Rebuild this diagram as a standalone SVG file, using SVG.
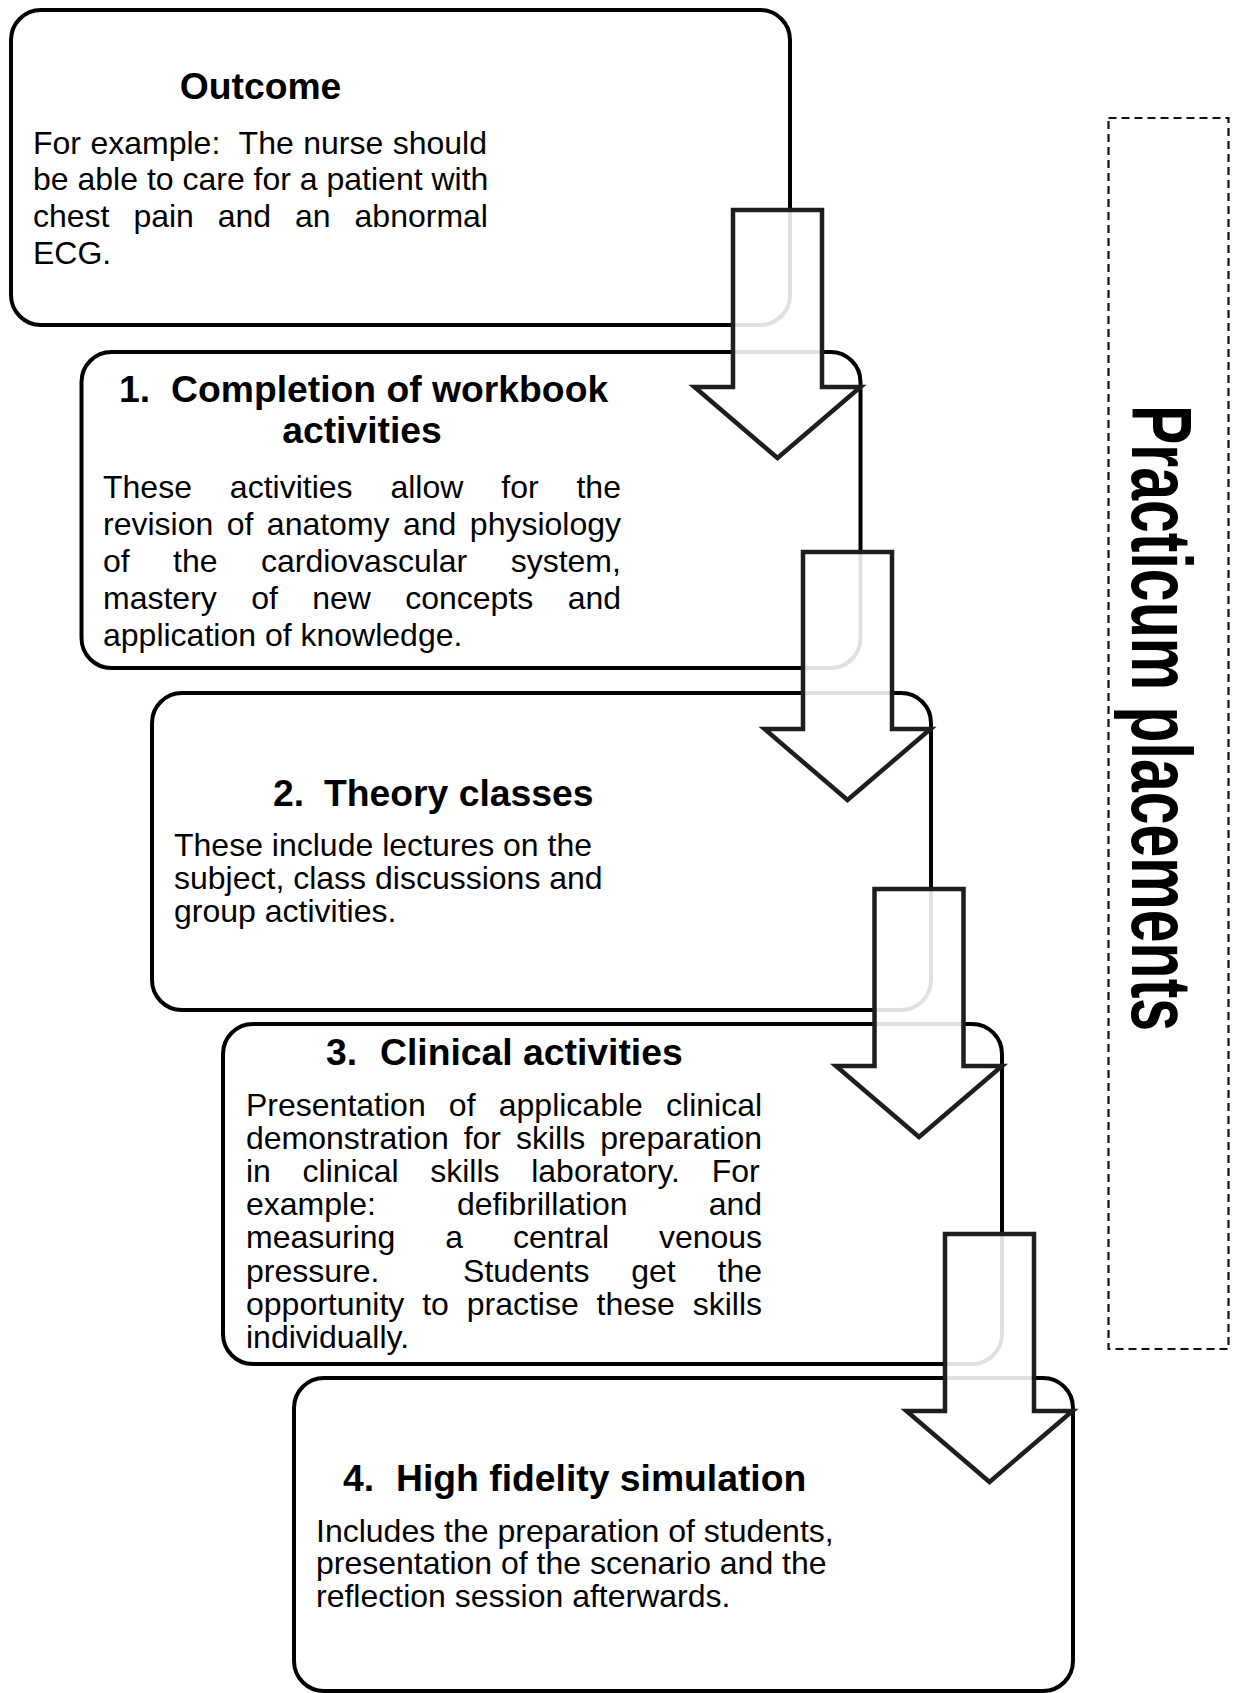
<svg xmlns="http://www.w3.org/2000/svg" width="1238" height="1693" viewBox="0 0 1238 1693">
  <style>
    .box { fill: #ffffff; stroke: #000000; stroke-width: 4; }
    .arrow { fill: #ffffff; fill-opacity: 0.88; stroke: #1e1e1e; stroke-width: 4.5; stroke-linejoin: miter; stroke-miterlimit: 10; }
    .head { font-family: "Liberation Sans", Arial, sans-serif; font-weight: bold; font-size: 37.3px; fill: #000; }
    .body { font-family: "Liberation Sans", Arial, sans-serif; font-size: 32px; fill: #000; }
    .side { font-family: "Liberation Sans", Arial, sans-serif; font-weight: bold; font-size: 59px; fill: #000; }
    .dash { fill: none; stroke: #111; stroke-width: 2.2; stroke-dasharray: 8 5; }
  </style>
  <defs>
    <!-- block arrow, local origin at the top-centre of the shaft -->
    <path id="downArrow" class="arrow" d="M-44.5,0 H44.5 V177 H83 L0,248 L-83,177 H-44.5 Z"/>
  </defs>

  <rect width="1238" height="1693" fill="#ffffff"/>

  <g id="outcome">
    <rect class="box" x="11" y="10" width="779" height="315" rx="30"/>
    <text class="head" x="260.5" y="99" text-anchor="middle">Outcome</text>
    <text class="body" x="33" y="153.5" xml:space="preserve" style="word-spacing:0.55px">For example:  The nurse should</text>
    <text class="body" x="33" y="190.3">be able to care for a patient with</text>
    <text class="body" x="33" y="227.1" style="word-spacing:15px">chest pain and an abnormal</text>
    <text class="body" x="33" y="263.9">ECG.</text>
  </g>

  <g id="workbook">
    <rect class="box" x="81.5" y="352" width="779" height="316" rx="30"/>
    <text class="head" x="119" y="402">1.</text>
    <text class="head" x="171" y="402">Completion of workbook</text>
    <text class="head" x="362" y="443" text-anchor="middle">activities</text>
    <text class="body" x="103" y="498" style="word-spacing:29px">These activities allow for the</text>
    <text class="body" x="103" y="535" style="word-spacing:4.55px">revision of anatomy and physiology</text>
    <text class="body" x="103" y="572" style="word-spacing:34.5px">of the cardiovascular system,</text>
    <text class="body" x="103" y="609" style="word-spacing:25.45px">mastery of new concepts and</text>
    <text class="body" x="103" y="646">application of knowledge.</text>
  </g>

  <g id="theory">
    <rect class="box" x="152" y="693" width="779" height="317" rx="30"/>
    <text class="head" x="273" y="806">2.</text>
    <text class="head" x="324" y="806">Theory classes</text>
    <text class="body" x="174" y="856">These include lectures on the</text>
    <text class="body" x="174" y="889">subject, class discussions and</text>
    <text class="body" x="174" y="922">group activities.</text>
  </g>

  <g id="clinical">
    <rect class="box" x="223" y="1024" width="779" height="340" rx="30"/>
    <text class="head" x="326" y="1065">3.</text>
    <text class="head" x="380" y="1065">Clinical activities</text>
    <text class="body" x="246" y="1115.5" style="word-spacing:14.3px">Presentation of applicable clinical</text>
    <text class="body" x="246" y="1148.7" style="word-spacing:6px">demonstration for skills preparation</text>
    <text class="body" x="246" y="1181.9" style="word-spacing:22.75px">in clinical skills laboratory. For</text>
    <text class="body" x="246" y="1215.1" style="word-spacing:72.15px">example: defibrillation and</text>
    <text class="body" x="246" y="1248.3" style="word-spacing:41px">measuring a central venous</text>
    <text class="body" x="246" y="1281.5" xml:space="preserve" style="word-spacing:32.95px">pressure.  Students get the</text>
    <text class="body" x="246" y="1314.7" style="word-spacing:8.95px">opportunity to practise these skills</text>
    <text class="body" x="246" y="1347.9">individually.</text>
  </g>

  <g id="simulation">
    <rect class="box" x="294" y="1378" width="779" height="313" rx="30"/>
    <text class="head" x="343" y="1490.5">4.</text>
    <text class="head" x="396" y="1490.5">High fidelity simulation</text>
    <text class="body" x="316" y="1541.5">Includes the preparation of students,</text>
    <text class="body" x="316" y="1574.3">presentation of the scenario and the</text>
    <text class="body" x="316" y="1607">reflection session afterwards.</text>
  </g>

  <g id="connectors">
    <use href="#downArrow" transform="translate(777.5,210)"/>
    <use href="#downArrow" transform="translate(847.5,552)"/>
    <use href="#downArrow" transform="translate(919,889)"/>
    <use href="#downArrow" transform="translate(989.5,1234)"/>
  </g>

  <g id="practicum">
    <rect class="dash" x="1108.5" y="118" width="120" height="1231"/>
    <text class="side" text-anchor="middle" transform="translate(1132,718) rotate(90) scale(1,1.45)">Practicum placements</text>
  </g>
</svg>
